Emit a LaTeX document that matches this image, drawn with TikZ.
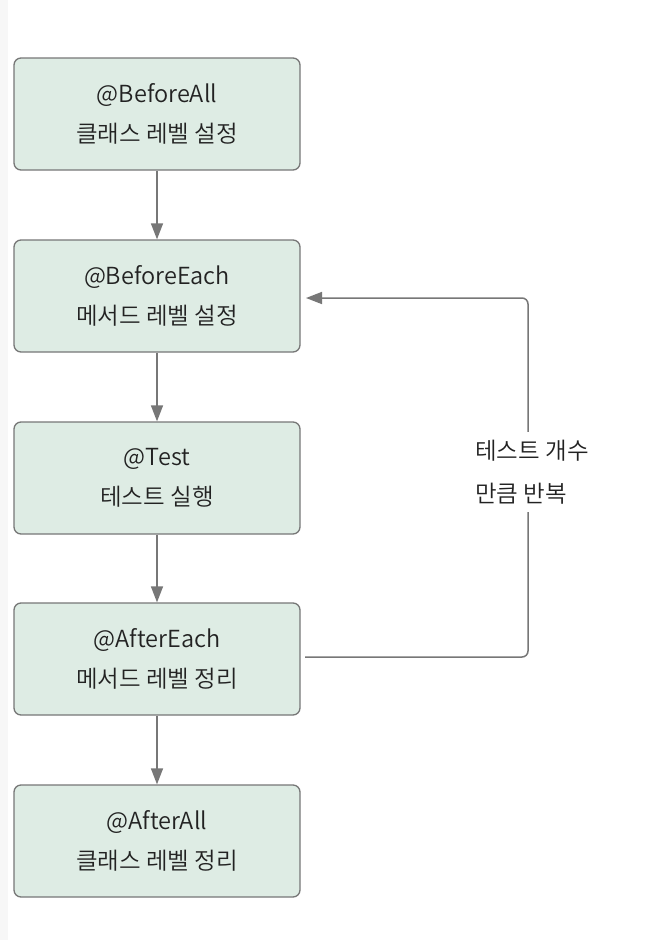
\documentclass[tikz,border=0pt]{standalone}
\usepackage{fontspec}
\setmainfont{Noto Sans CJK KR DemiLight}
\usetikzlibrary{arrows.meta}
\definecolor{boxfill}{HTML}{DEECE4}
\definecolor{edge}{HTML}{777777}
\definecolor{txt}{HTML}{222222}
\tikzset{
  stepbox/.style={draw=edge, line width=1.3pt, fill=boxfill, rounded corners=7pt,
    minimum width=286pt, minimum height=112pt, inner sep=0pt, align=center,
    text=txt, font=\fontsize{23.5}{40}\selectfont},
  flow/.style={draw=edge, line width=1.5pt, -{Triangle[width=12pt,length=16pt]}},
  looplabel/.style={fill=white, text=txt, align=left, inner sep=8pt,
    font=\fontsize{23.5}{43}\selectfont}
}
\begin{document}
\begin{tikzpicture}[x=1pt,y=-1pt]
\useasboundingbox (0,0) rectangle (648,940);
\fill[white] (0,0) rectangle (648,940);
\fill[black!3] (0,0) rectangle (8,940);
\node[stepbox] (b1) at (157,114) {@BeforeAll\\클래스 레벨 설정};
\node[stepbox] (b2) at (157,296) {@BeforeEach\\메서드 레벨 설정};
\node[stepbox] (b3) at (157,478) {@Test\\테스트 실행};
\node[stepbox] (b4) at (157,659) {@AfterEach\\메서드 레벨 정리};
\node[stepbox] (b5) at (157,841) {@AfterAll\\클래스 레벨 정리};
\draw[flow] (b1) -- (b2);
\draw[flow] (b2) -- (b3);
\draw[flow] (b3) -- (b4);
\draw[flow] (b4) -- (b5);
\coordinate (ls) at (305,657);
\coordinate (lc1) at (528,657);
\coordinate (lc2) at (528,298);
\coordinate (le) at (306,298);
\draw[flow, rounded corners=6pt] (ls) -- (lc1) -- (lc2) -- (le);
\node[looplabel] (lab) at (532,472) {테스트 개수\\만큼 반복};
\end{tikzpicture}
\end{document}
